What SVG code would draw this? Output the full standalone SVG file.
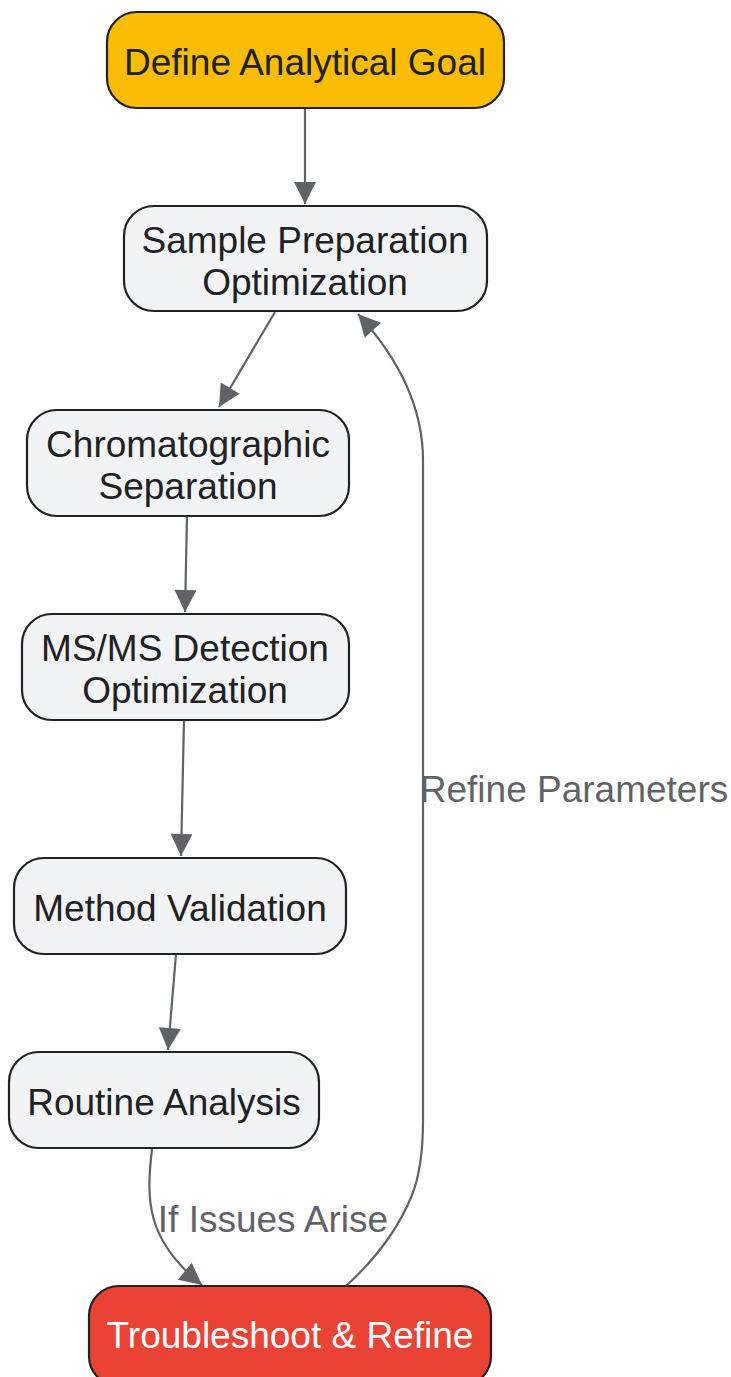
<svg xmlns="http://www.w3.org/2000/svg" width="731" height="1377" viewBox="0 0 731 1377">
<style>
.n rect{fill:#F1F3F4;stroke:#202124;stroke-width:2.2}
.t{font-family:"Liberation Sans",Arial,sans-serif;font-size:37px;fill:#202124;text-anchor:middle}
.e{fill:none;stroke:#5F6368;stroke-width:2.2}
.l{font-family:"Liberation Sans",Arial,sans-serif;font-size:37px;fill:#5F6368;text-anchor:middle}
</style>
<defs>
<marker id="a" viewBox="0 0 10 10" markerUnits="userSpaceOnUse" markerWidth="30" markerHeight="22" refX="10" refY="5" orient="auto">
<path d="M0,0 L10,5 L0,10 z" fill="#5F6368"/>
</marker>
</defs>
<g id="connectors">
<path class="e" d="M305,108 L305,204" marker-end="url(#a)"/>
<path class="e" d="M275,312 L219,407" marker-end="url(#a)"/>
<path class="e" d="M187,516 L185,612" marker-end="url(#a)"/>
<path class="e" d="M184,720 L181,856" marker-end="url(#a)"/>
<path class="e" d="M176,954 L168,1050" marker-end="url(#a)"/>
<path class="e" d="M152,1149 C146,1200 146,1240 202,1285" marker-end="url(#a)"/>
<path class="e" d="M346,1286 C380,1255 400,1225 412,1195 C420,1175 423,1150 423,1120 L423,460 C423,410 400,360 358,314" marker-end="url(#a)"/>
<text class="l" x="574" y="802">Refine Parameters</text>
<text class="l" x="273" y="1232">If Issues Arise</text>
</g>
<g id="n1"><rect x="107" y="12" width="397" height="96" rx="30" style="fill:#FBBC05;stroke:#202124;stroke-width:2.2"/><text class="t" x="305" y="75">Define Analytical Goal</text></g>
<g id="n2" class="n"><rect x="124" y="206" width="363" height="105" rx="30"/><text class="t" x="305" y="253">Sample Preparation</text><text class="t" x="305" y="295">Optimization</text></g>
<g id="n3" class="n"><rect x="27" y="410" width="322" height="106" rx="30"/><text class="t" x="188" y="457">Chromatographic</text><text class="t" x="188" y="499">Separation</text></g>
<g id="n4" class="n"><rect x="22" y="614" width="327" height="106" rx="30"/><text class="t" x="185" y="661">MS/MS Detection</text><text class="t" x="185" y="703">Optimization</text></g>
<g id="n5" class="n"><rect x="14" y="858" width="332" height="96" rx="30"/><text class="t" x="180" y="921">Method Validation</text></g>
<g id="n6" class="n"><rect x="9" y="1052" width="310" height="96" rx="30"/><text class="t" x="164" y="1115">Routine Analysis</text></g>
<g id="n7"><rect x="89" y="1286" width="402" height="100" rx="30" style="fill:#EA4335;stroke:#202124;stroke-width:2.2"/><text class="t" x="290" y="1348" style="fill:#FFFFFF">Troubleshoot &amp; Refine</text></g>
</svg>
